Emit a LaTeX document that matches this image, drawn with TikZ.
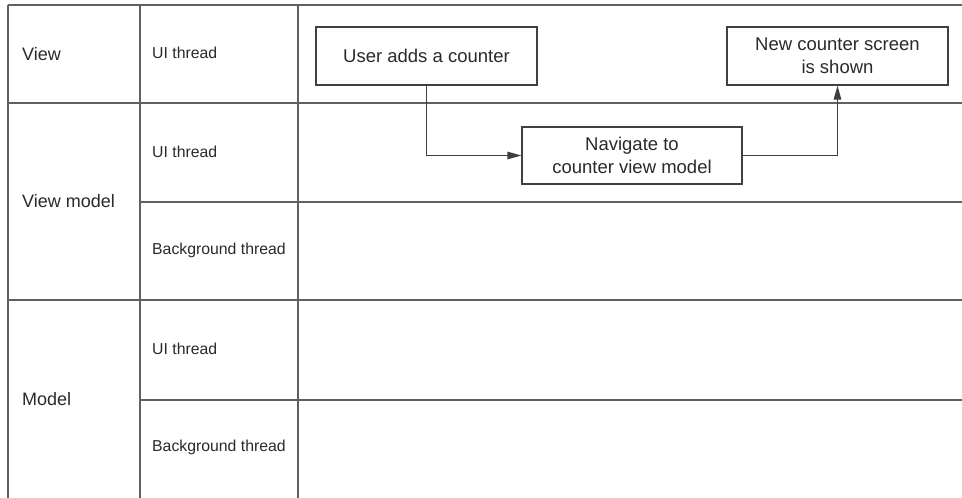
\documentclass[tikz,border=0pt]{standalone}
\usepackage{fontspec}
\setmainfont{Liberation Sans}
\usetikzlibrary{arrows.meta}
\definecolor{gridc}{HTML}{606060}
\definecolor{boxc}{HTML}{404040}
\definecolor{txtc}{HTML}{2A2A2A}
\tikzset{
  gridline/.style={draw=gridc, line width=1.6pt},
  lanelabel/.style={anchor=west, inner sep=0pt, text=txtc, font=\fontsize{18}{21}\selectfont},
  threadlabel/.style={anchor=west, inner sep=0pt, text=txtc, font=\fontsize{15.8}{19}\selectfont},
  stepbox/.style={draw=boxc, line width=1.2pt, text=txtc, align=center, inner sep=2pt,
    font=\fontsize{18.5}{23}\selectfont, minimum width=221pt, minimum height=58pt},
  flow/.style={draw=boxc, line width=1.2pt, -{Triangle[length=14pt,width=7.5pt]}}
}
\begin{document}
\begin{tikzpicture}[x=1pt,y=-1pt]
\useasboundingbox[fill=white] (0,0) rectangle (962,498);
% grid
\draw[gridline] (8,5) -- (962,5);
\draw[gridline] (8,103) -- (962,103);
\draw[gridline] (140,202) -- (962,202);
\draw[gridline] (8,300) -- (962,300);
\draw[gridline] (140,400) -- (962,400);
\draw[gridline] (8,5) -- (8,498);
\draw[gridline] (140,5) -- (140,498);
\draw[gridline] (298,5) -- (298,498);
% lane labels
\node[lanelabel] (lview) at (22,54) {View};
\node[lanelabel] (lvm) at (22,201) {View model};
\node[lanelabel] (lmodel) at (22,399) {Model};
\node[threadlabel] (t1) at (152,53) {UI thread};
\node[threadlabel] (t2) at (152,152) {UI thread};
\node[threadlabel] (t3) at (152,250) {Background thread};
\node[threadlabel] (t4) at (152,349) {UI thread};
\node[threadlabel] (t5) at (152,447) {Background thread};
% steps
\node[stepbox] (user) at (426.5,56) {User adds a counter};
\node[stepbox, minimum width=220pt, minimum height=57pt] (nav) at (632,155.5) {Navigate to\\counter view model};
\node[stepbox] (new) at (837.5,56) {New counter screen\\is shown};
% connectors
\draw[flow] (user.south) |- (nav.west);
\draw[flow] (nav.east) -| (new.south);
\end{tikzpicture}
\end{document}
